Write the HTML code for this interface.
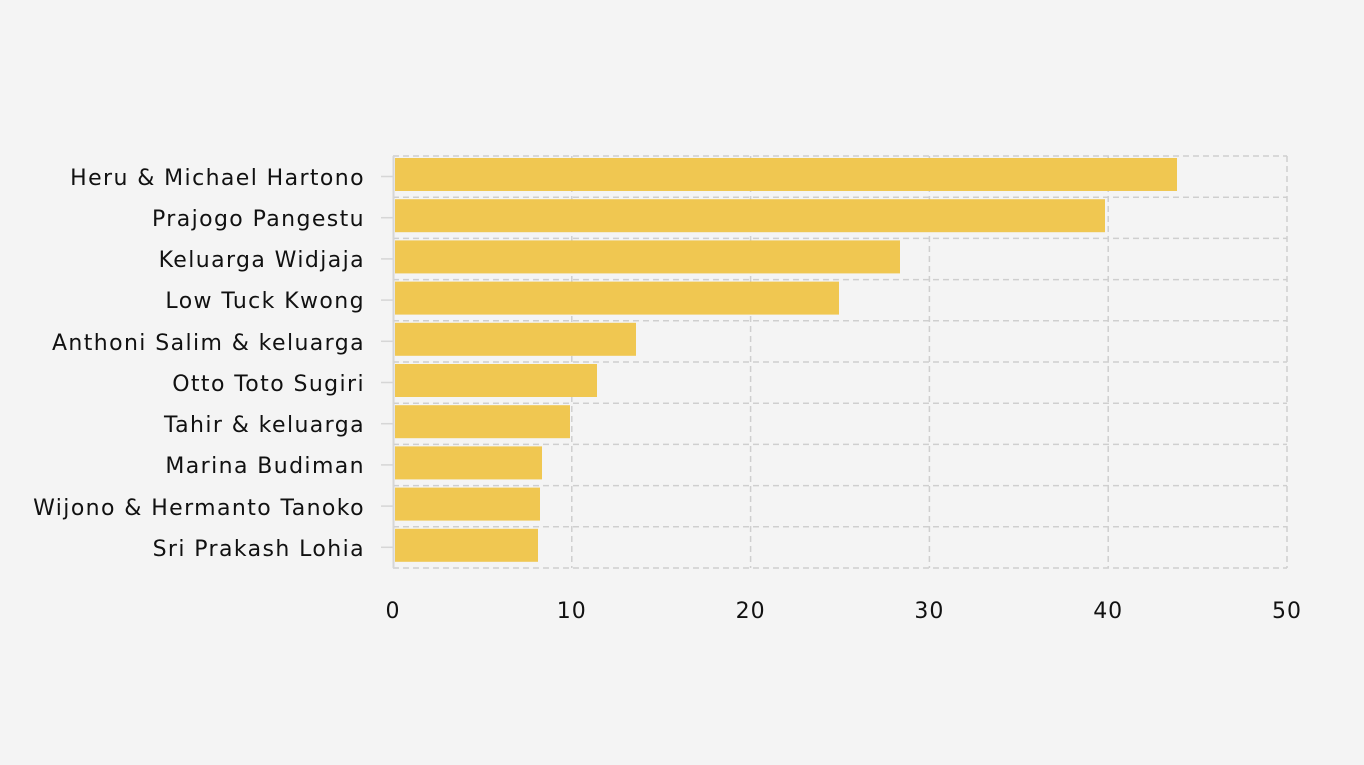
<!DOCTYPE html>
<html><head><style>
body{margin:0;background:#f4f4f4;}
svg{display:block;font-family:"DejaVu Sans","Liberation Sans",sans-serif;}
</style></head><body>
<svg width="1364" height="765" viewBox="0 0 1364 765">
<rect width="1364" height="765" fill="#f4f4f4"/>
<g stroke="#cfcfcf" stroke-width="1.5" stroke-dasharray="6,4" fill="none">
<line x1="571.8" y1="156" x2="571.8" y2="568"/>
<line x1="750.6" y1="156" x2="750.6" y2="568"/>
<line x1="929.4" y1="156" x2="929.4" y2="568"/>
<line x1="1108.2" y1="156" x2="1108.2" y2="568"/>
<line x1="1287" y1="156" x2="1287" y2="568"/>
<line x1="393" y1="156" x2="1287" y2="156"/>
<line x1="393" y1="197.2" x2="1287" y2="197.2"/>
<line x1="393" y1="238.4" x2="1287" y2="238.4"/>
<line x1="393" y1="279.6" x2="1287" y2="279.6"/>
<line x1="393" y1="320.8" x2="1287" y2="320.8"/>
<line x1="393" y1="362" x2="1287" y2="362"/>
<line x1="393" y1="403.2" x2="1287" y2="403.2"/>
<line x1="393" y1="444.4" x2="1287" y2="444.4"/>
<line x1="393" y1="485.6" x2="1287" y2="485.6"/>
<line x1="393" y1="526.8" x2="1287" y2="526.8"/>
<line x1="393" y1="568" x2="1287" y2="568"/>
</g>
<line x1="393.5" y1="156" x2="393.5" y2="568" stroke="#d6d6d6" stroke-width="2"/>
<g fill="#f0c751">
<rect x="395" y="158" width="782" height="33"/>
<rect x="395" y="199.2" width="710" height="33"/>
<rect x="395" y="240.4" width="505" height="33"/>
<rect x="395" y="281.6" width="444" height="33"/>
<rect x="395" y="322.8" width="241" height="33"/>
<rect x="395" y="364" width="202" height="33"/>
<rect x="395" y="405.2" width="175" height="33"/>
<rect x="395" y="446.4" width="147" height="33"/>
<rect x="395" y="487.6" width="145" height="33"/>
<rect x="395" y="528.8" width="143" height="33"/>
</g>
<g stroke="#d6d6d6" stroke-width="1.5">
<line x1="381" y1="176.5" x2="393" y2="176.5"/><line x1="381" y1="217.7" x2="393" y2="217.7"/>
<line x1="381" y1="258.9" x2="393" y2="258.9"/><line x1="381" y1="300.1" x2="393" y2="300.1"/>
<line x1="381" y1="341.3" x2="393" y2="341.3"/><line x1="381" y1="382.5" x2="393" y2="382.5"/>
<line x1="381" y1="423.7" x2="393" y2="423.7"/><line x1="381" y1="464.9" x2="393" y2="464.9"/>
<line x1="381" y1="506.1" x2="393" y2="506.1"/><line x1="381" y1="547.3" x2="393" y2="547.3"/>
</g>
<g font-size="22" fill="#111" text-anchor="end" letter-spacing="1.4">
<text x="365" y="185">Heru &amp; Michael Hartono</text>
<text x="365" y="226">Prajogo Pangestu</text>
<text x="365" y="267">Keluarga Widjaja</text>
<text x="365" y="308">Low Tuck Kwong</text>
<text x="365" y="350">Anthoni Salim &amp; keluarga</text>
<text x="365" y="391">Otto Toto Sugiri</text>
<text x="365" y="432">Tahir &amp; keluarga</text>
<text x="365" y="473">Marina Budiman</text>
<text x="365" y="515">Wijono &amp; Hermanto Tanoko</text>
<text x="365" y="556">Sri Prakash Lohia</text>
</g>
<g font-size="22" fill="#111" text-anchor="middle" letter-spacing="1">
<text x="393" y="618">0</text><text x="571.8" y="618">10</text><text x="750.6" y="618">20</text>
<text x="929.4" y="618">30</text><text x="1108.2" y="618">40</text><text x="1287" y="618">50</text>
</g>
</svg>
</body></html>
